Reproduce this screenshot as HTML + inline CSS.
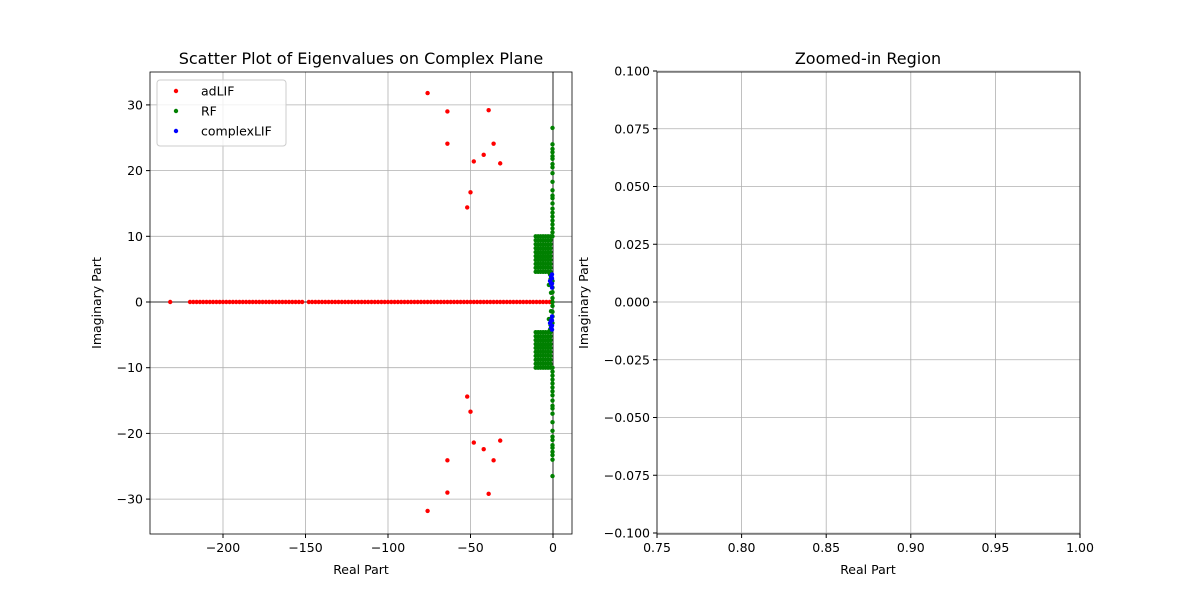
<!DOCTYPE html>
<html><head><meta charset="utf-8"><style>
body{margin:0;background:#fff;}
svg text{font-family:"DejaVu Sans","Liberation Sans",sans-serif;fill:#000;}
</style></head><body>
<svg id="chart" width="1200" height="600" xmlns="http://www.w3.org/2000/svg">
<rect width="1200" height="600" fill="#fff"/>
<g id="left"></g>
<g id="right"></g>
</svg>
<script>
const adlifRealAxis=[-232,-220,-218,-216,-214,-212,-210,-208,-206,-204,-202,-200,-198,-196,-194,-192,-190,-188,-186,-184,-182,-180,-178,-176,-174,-172,-170,-168,-166,-164,-162,-160,-158,-156,-154,-152,-148,-146,-144,-142,-140,-138,-136,-134,-132,-130,-128,-126,-124,-122,-120,-118,-116,-114,-112,-110,-108,-106,-104,-102,-100,-98,-96,-94,-92,-90,-88,-86,-84,-82,-80,-78,-76,-74,-72,-70,-68,-66,-64,-62,-60,-58,-56,-54,-52,-50,-48,-46,-44,-42,-40,-38,-36,-34,-32,-30,-28,-26,-24,-22,-20,-18,-16,-14,-12,-10,-8,-6,-4,-2,-1];
const adlifComplexRe=[-76,-64,-39,-64,-36,-42,-48,-32,-50,-52];
const adlifComplexIm=[31.8,29,29.2,24.1,24.1,22.4,21.4,21.1,16.7,14.4];
const rfColRe=-0.3;
const rfColIm=[26.5,24,23.3,22.8,22.2,21.8,21,20.5,19.6,18.3,17,16.2,15.8,15,14.2,13.6,13,12.4,11.8,11.2,10.6,10,3.2,2.2,1.5,0.6,0];
const rfClusterRe=[-10.5,-9,-7.5,-6,-4.5,-3,-1.5];
const rfClusterIm=[4.6,5.2,5.8,6.4,7,7.6,8.2,8.8,9.4,10];
const rfScatterRe=[-1.5,-2.5,-1.2,-1.8];
const rfScatterIm=[3.5,2.6,1.4,4.2];
const clifRe=[-0.6,-1.2,-1.8,-0.6,-1.2,-0.6,-0.6];
const clifIm=[2.2,2.8,3.2,3.6,3.9,2.8,4.2];
const xTicks=[-200,-150,-100,-50,0];
const yTicks=[-30,-20,-10,0,10,20,30];
const zxTicks=[0.75,0.80,0.85,0.90,0.95,1.00];
const zyTicks=[-0.100,-0.075,-0.050,-0.025,0.000,0.025,0.050,0.075,0.100];

const NS="http://www.w3.org/2000/svg";
const TF=12.5;
function mk(p,t,a,txt){const e=document.createElementNS(NS,t);for(const k in a)e.setAttribute(k,a[k]);if(txt!==undefined)e.textContent=txt;p.appendChild(e);return e;}
const L=document.getElementById('left'),R=document.getElementById('right');
const X0=150,X1=572,Y0=72,Y1=534;
const xs=v=>553+1.65*v, ys=v=>302-6.57*v;
const fmt=v=>v<0?'\u2212'+Math.abs(v):''+v;

xTicks.forEach(t=>{const x=xs(t);
 const g=mk(L,'line',{x1:x,x2:x,y1:Y0,y2:Y1,stroke:'#b0b0b0','stroke-width':0.8});
 
 mk(L,'line',{x1:x,x2:x,y1:Y1,y2:Y1+4,stroke:'#000'});
 const tx=mk(L,'text',{x:x,y:Y1+18,'text-anchor':'middle','font-size':TF},fmt(t));
 });
yTicks.forEach(t=>{const y=ys(t);
 const g=mk(L,'line',{x1:X0,x2:X1,y1:y,y2:y,stroke:'#b0b0b0','stroke-width':0.8});
 
 mk(L,'line',{x1:X0-4,x2:X0,y1:y,y2:y,stroke:'#000'});
 const tx=mk(L,'text',{x:X0-7,y:y+4.5,'text-anchor':'end','font-size':TF},fmt(t));
 });
mk(L,'line',{x1:X0,x2:X1,y1:ys(0),y2:ys(0),stroke:'#000','stroke-width':0.8});
mk(L,'line',{x1:xs(0),x2:xs(0),y1:Y0,y2:Y1,stroke:'#000','stroke-width':0.8});

function dot(re,im,c,name){const d=mk(L,'circle',{cx:xs(re),cy:ys(im),r:2.2,fill:c});
 }
adlifRealAxis.forEach(v=>dot(v,0,'red','adlif-point'));
adlifComplexRe.forEach((v,i)=>{dot(v,adlifComplexIm[i],'red','adlif-point');dot(v,-adlifComplexIm[i],'red','adlif-point');});
rfClusterRe.forEach(r=>rfClusterIm.forEach(im=>{dot(r,im,'green','rf-point');dot(r,-im,'green','rf-point');}));
rfColIm.forEach(im=>{dot(rfColRe,im,'green','rf-point');dot(rfColRe,-im,'green','rf-point');});
rfScatterRe.forEach((v,i)=>{dot(v,rfScatterIm[i],'green','rf-point');dot(v,-rfScatterIm[i],'green','rf-point');});
clifRe.forEach((v,i)=>{dot(v,clifIm[i],'blue','complexlif-point');dot(v,-clifIm[i],'blue','complexlif-point');});

mk(L,'rect',{x:X0,y:Y0,width:X1-X0,height:Y1-Y0,fill:'none',stroke:'#000','stroke-width':0.8});
let t=mk(L,'text',{x:361,y:64,'text-anchor':'middle','font-size':16},'Scatter Plot of Eigenvalues on Complex Plane');

t=mk(L,'text',{x:361,y:574,'text-anchor':'middle','font-size':TF},'Real Part');

t=mk(L,'text',{x:101,y:303,'text-anchor':'middle','font-size':TF,transform:'rotate(-90 101 303)'},'Imaginary Part');


const lg=mk(L,'g',{});

mk(lg,'rect',{x:157,y:80,width:129,height:66,rx:3,fill:'#fff',stroke:'#ccc','fill-opacity':0.8});
[['adLIF','red',91],['RF','green',111],['complexLIF','blue',131]].forEach(([n,c,y])=>{
 const e=mk(lg,'g',{});
 mk(e,'circle',{cx:176,cy:y,r:2.2,fill:c});
 mk(e,'text',{x:201,y:y+4.5,'font-size':TF},n);});

const RX0=657,RX1=1080;
const zx=v=>RX0+(v-0.75)/0.25*(RX1-RX0), zy=v=>302-v/0.1*231;
zxTicks.forEach(v=>{const x=zx(v);
 mk(R,'line',{x1:x,x2:x,y1:Y0,y2:Y1,stroke:'#b0b0b0','stroke-width':0.8});
 mk(R,'line',{x1:x,x2:x,y1:Y1,y2:Y1+4,stroke:'#000'});
 const tx=mk(R,'text',{x:x,y:Y1+18,'text-anchor':'middle','font-size':TF},v.toFixed(2));
 });
zyTicks.forEach(v=>{const y=zy(v);
 mk(R,'line',{x1:RX0,x2:RX1,y1:y,y2:y,stroke:'#b0b0b0','stroke-width':0.8});
 mk(R,'line',{x1:RX0-4,x2:RX0,y1:y,y2:y,stroke:'#000'});
 const s=(v<0?'\u2212':'')+Math.abs(v).toFixed(3);
 const tx=mk(R,'text',{x:RX0-7,y:y+4.5,'text-anchor':'end','font-size':TF},s);
 });
mk(R,'rect',{x:RX0,y:Y0,width:RX1-RX0,height:Y1-Y0,fill:'none',stroke:'#000','stroke-width':0.8});
t=mk(R,'text',{x:868,y:64,'text-anchor':'middle','font-size':16},'Zoomed-in Region');

t=mk(R,'text',{x:868,y:574,'text-anchor':'middle','font-size':TF},'Real Part');

t=mk(R,'text',{x:588,y:303,'text-anchor':'middle','font-size':TF,transform:'rotate(-90 588 303)'},'Imaginary Part');

</script>
</body></html>
